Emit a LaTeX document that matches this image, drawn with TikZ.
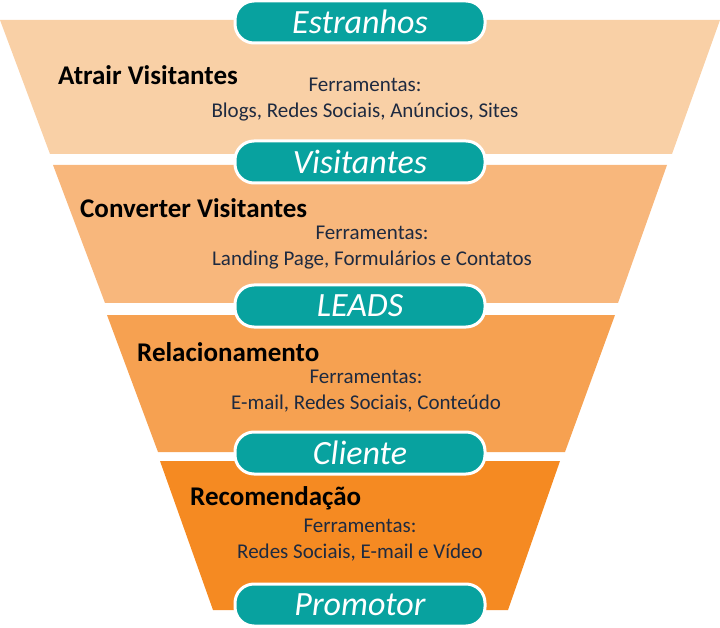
\documentclass[tikz,border=0pt]{standalone}
\usepackage{fontspec}
\setmainfont{Carlito}
\definecolor{band1}{HTML}{F9D0A6}
\definecolor{band2}{HTML}{F8B77C}
\definecolor{band3}{HTML}{F6A151}
\definecolor{band4}{HTML}{F58A22}
\definecolor{pillteal}{HTML}{08A29F}
\definecolor{toolink}{HTML}{1E2A40}
\begin{document}
\begin{tikzpicture}[
    x=1pt, y=-1pt,
    stage/.style={rectangle, rounded corners=19pt, fill=pillteal, draw=white, line width=3pt,
      minimum width=250pt, minimum height=42pt, inner sep=0pt, text=white, font=\fontsize{34}{36}\selectfont\itshape},
    title/.style={anchor=west, inner sep=0pt, font=\fontsize{27}{30}\selectfont\bfseries},
    tools/.style={align=center, inner sep=0pt, text=toolink, font=\fontsize{21}{26}\selectfont}
]
    \useasboundingbox (0,0) rectangle (720,628);

    % Trichter
    \fill[band1] (0,20) -- (720,20) -- (672,154) -- (50,154) -- cycle;
    \fill[band2] (53,165) -- (667,165) -- (618,303) -- (105,303) -- cycle;
    \fill[band3] (107,315) -- (615,315) -- (565,452) -- (158,452) -- cycle;
    \fill[band4] (160,461) -- (560,461) -- (508,610) -- (213,610) -- cycle;

    % Stufen
    \node[stage] (estranhos) at (360,22) {Estranhos};
    \node[stage] (visitantes) at (360,162) {Visitantes};
    \node[stage] (leads) at (360,306) {LEADS};
    \node[stage] (cliente) at (360,453) {Cliente};
    \node[stage] (promotor) at (360,605) {Promotor};

    % Texte
    \node[title] (atrair) at (58,75) {Atrair Visitantes};
    \node[tools] (tools1) at (365,100) {Ferramentas:\\Blogs, Redes Sociais, Anúncios, Sites};
    \node[title] (converter) at (80,208) {Converter Visitantes};
    \node[tools] (tools2) at (372,248) {Ferramentas:\\Landing Page, Formulários e Contatos};
    \node[title] (relacionamento) at (137,352) {Relacionamento};
    \node[tools] (tools3) at (366,391) {Ferramentas:\\E-mail, Redes Sociais, Conteúdo};
    \node[title] (recomendacao) at (190,498) {Recomendação};
    \node[tools] (tools4) at (360,540) {Ferramentas:\\Redes Sociais, E-mail e Vídeo};
\end{tikzpicture}
\end{document}
